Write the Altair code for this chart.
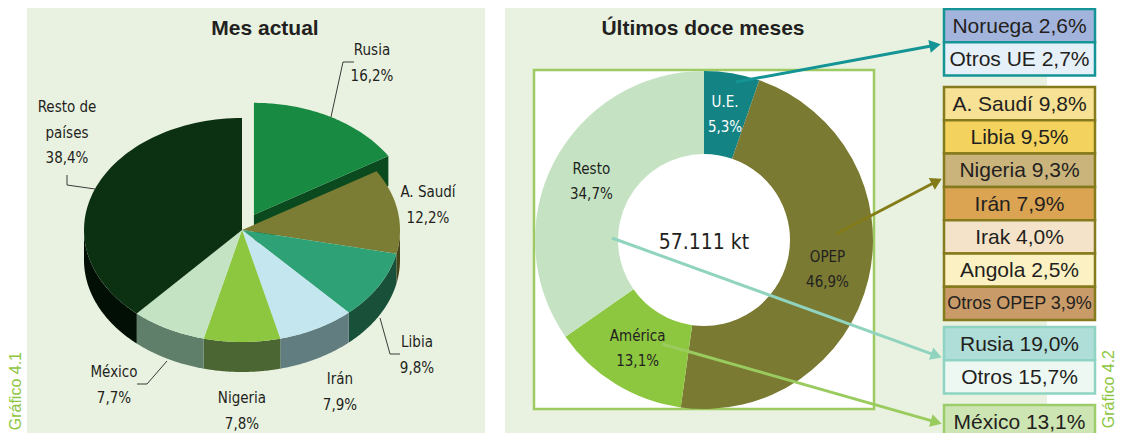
import altair as alt
import pandas as pd

# ---------------- data ----------------
pie_labels = ["Rusia", "A. Saudí", "Libia", "Irán", "Nigeria", "México", "Resto de países"]
pie_values = [16.2, 12.2, 9.8, 7.9, 7.8, 7.7, 38.4]
exploded = "Rusia"

donut_labels = ["U.E.", "OPEP", "América", "Resto"]
donut_values = [5.3, 46.9, 13.1, 34.7]
donut_center = "57.111 kt"

box_labels = ["Noruega", "Otros UE", "A. Saudí", "Libia", "Nigeria", "Irán", "Irak",
              "Angola", "Otros OPEP", "Rusia", "Otros", "México"]
box_values = [2.6, 2.7, 9.8, 9.5, 9.3, 7.9, 4.0, 2.5, 3.9, 19.0, 15.7, 13.1]
box_groups = ["U.E."] * 2 + ["OPEP"] * 7 + ["Resto"] * 2 + ["América"]

panel_titles = ["Mes actual", "Últimos doce meses"]
figure_ids = ["Gráfico 4.1", "Gráfico 4.2"]


def pct(v):
    return f"{v:.1f}".replace(".", ",") + "%"


# ---------------- styles ----------------
pie_top_colors = ["#188A42", "#7B7D34", "#2EA276", "#C4E6EF", "#8DC63F", "#C4E3C3", "#0C3112"]
pie_side_colors = ["#0B4A1F", "#46461A", "#18503A", "#627D80", "#4B6633", "#5F7F6B", "#010F04"]
donut_colors = ["#138384", "#7A7A33", "#8DC63F", "#C5E3C3"]
donut_text_colors = ["#FFFFFF", "#231F20", "#231F20", "#231F20"]
box_fill_colors = ["#A3B4DC", "#E6F0F8", "#F7E194", "#F3D35E", "#CBB47B", "#DAA453",
                   "#F5E3C9", "#FCF1C3", "#C99B68", "#AFDDD7", "#EEF8F3", "#CDE5B2"]
group_border = {"U.E.": "#149495", "OPEP": "#857A1C", "Resto": "#8FD3C2", "América": "#9DCD6B"}
arrow_colors = {"U.E.": "#149495", "OPEP": "#847B19", "Resto": "#90D4BF", "América": "#9ACB5F"}
PANEL_BG = "#E9F2E0"
TEXT = "#231F20"
GREEN_ID = "#8DC63F"
NARROW = "DejaVu Sans Condensed, sans-serif"
SANS = "Liberation Sans, Arial, sans-serif"

# ---------------- layout (page pixels) ----------------
W, H = 1108, 425
X0, Y0 = 8, 8
xs = alt.Scale(domain=[X0, X0 + W], nice=False, zero=False)
ys = alt.Scale(domain=[Y0, Y0 + H], nice=False, zero=False, reverse=True)


def X(f):
    return alt.X(f + ":Q", scale=xs, axis=None)


def Y(f):
    return alt.Y(f + ":Q", scale=ys, axis=None)


# panels
panels_df = pd.DataFrame({"x": [27, 505], "x2": [485, 1047], "y": [8, 8], "y2": [433, 433]})
panels = alt.Chart(panels_df).mark_rect(color=PANEL_BG).encode(
    x=X("x"), x2="x2:Q", y=Y("y"), y2="y2:Q")

frame_df = pd.DataFrame({"x": [534], "x2": [874], "y": [70], "y2": [409]})
frame = alt.Chart(frame_df).mark_rect(fill="white", stroke="#9DCB62", strokeWidth=2.5).encode(
    x=X("x"), x2="x2:Q", y=Y("y"), y2="y2:Q")

# ---------------- donut ----------------
DCX, DCY, RO, RI, RLAB = 704, 240, 169, 86, 127
donut_df = pd.DataFrame({
    "label": donut_labels, "value": donut_values, "order": list(range(len(donut_labels))),
    "col": donut_colors, "tcol": donut_text_colors, "pct": [pct(v) for v in donut_values]})
dbase = alt.Chart(donut_df).transform_calculate(cx=str(DCX), cy=str(DCY))
theta = alt.Theta("value:Q", stack=True)
donut = dbase.mark_arc(innerRadius=RI, outerRadius=RO).encode(
    theta=theta, order=alt.Order("order:Q"), color=alt.Color("col:N", scale=None),
    x=X("cx"), y=Y("cy"))
dlab1 = dbase.mark_text(radius=RLAB, dy=-12.5, font=NARROW, fontSize=15, baseline="middle").encode(
    theta=theta, order=alt.Order("order:Q"), text="label:N", color=alt.Color("tcol:N", scale=None),
    x=X("cx"), y=Y("cy"))
dlab2 = dbase.mark_text(radius=RLAB, dy=12.5, font=NARROW, fontSize=15, baseline="middle").encode(
    theta=theta, order=alt.Order("order:Q"), text="pct:N", color=alt.Color("tcol:N", scale=None),
    x=X("cx"), y=Y("cy"))
center_df = pd.DataFrame({"t": [donut_center], "x": [DCX], "y": [DCY + 3]})
dcenter = alt.Chart(center_df).mark_text(font=NARROW, fontSize=21, color=TEXT, baseline="middle").encode(
    x=X("x"), y=Y("y"), text="t:N")

# ---------------- 3D pie ----------------
CX, CY, RX, RY, DEPTH, EXPLODE, N = 242, 230, 158, 112, 30, 0.155, 72
pie_df = pd.DataFrame({"label": pie_labels, "value": pie_values,
                       "order": list(range(len(pie_labels))),
                       "top": pie_top_colors, "side": pie_side_colors})
pie_base = (alt.Chart(pie_df)
            .transform_window(cum="sum(value)", sort=[alt.SortField(field="order", order="ascending")],
                              frame=[None, 0])
            .transform_joinaggregate(total="sum(value)")
            .transform_calculate(a0="2*PI*(datum.cum - datum.value)/datum.total")
            .transform_calculate(a1="2*PI*datum.cum/datum.total")
            .transform_calculate(ex=f"datum.label == '{exploded}' ? 1 : 0")
            .transform_calculate(ox=f"datum.ex*{EXPLODE}*{RX}*sin((datum.a0+datum.a1)/2)")
            .transform_calculate(oy=f"-datum.ex*{EXPLODE}*{RY}*cos((datum.a0+datum.a1)/2)"))

tops = (pie_base
        .transform_calculate(s=f"sequence(-1, {N + 1})")
        .transform_flatten(["s"])
        .transform_calculate(th=f"datum.a0 + (datum.a1 - datum.a0)*max(datum.s, 0)/{N}")
        .transform_calculate(r="datum.s < 0 ? 0 : 1")
        .transform_calculate(px=f"{CX} + datum.ox + datum.r*{RX}*sin(datum.th)")
        .transform_calculate(py=f"{CY} + datum.oy - datum.r*{RY}*cos(datum.th)")
        .mark_line(filled=True, interpolate="linear-closed")
        .encode(x=X("px"), y=Y("py"), order=alt.Order("s:Q"), detail="label:N",
                color=alt.Color("top:N", scale=None)))

walls = (pie_base
         .transform_calculate(w0="max(datum.a0, PI/2)")
         .transform_calculate(w1="min(datum.a1, 3*PI/2)")
         .transform_filter("datum.w1 > datum.w0")
         .transform_calculate(s=f"sequence(0, {2 * N + 2})")
         .transform_flatten(["s"])
         .transform_calculate(th=f"datum.s <= {N} ? datum.w0 + (datum.w1-datum.w0)*datum.s/{N} : "
                                 f"datum.w1 - (datum.w1-datum.w0)*(datum.s-{N + 1})/{N}")
         .transform_calculate(dz=f"datum.s <= {N} ? 0 : 1")
         .transform_calculate(px=f"{CX} + datum.ox + {RX}*sin(datum.th)")
         .transform_calculate(py=f"{CY} + datum.oy - {RY}*cos(datum.th) + datum.dz*{DEPTH}")
         .mark_line(filled=True, interpolate="linear-closed")
         .encode(x=X("px"), y=Y("py"), order=alt.Order("s:Q"), detail="label:N",
                 color=alt.Color("side:N", scale=None)))

face = (pie_base
        .transform_filter("datum.ex == 1")
        .transform_calculate(s="sequence(0, 4)")
        .transform_flatten(["s"])
        .transform_calculate(r="(datum.s == 1 || datum.s == 2) ? 1 : 0")
        .transform_calculate(dz="datum.s >= 2 ? 1 : 0")
        .transform_calculate(px=f"{CX} + datum.ox + datum.r*{RX}*sin(datum.a1)")
        .transform_calculate(py=f"{CY} + datum.oy - datum.r*{RY}*cos(datum.a1) + datum.dz*{DEPTH}")
        .mark_line(filled=True, interpolate="linear-closed")
        .encode(x=X("px"), y=Y("py"), order=alt.Order("s:Q"), detail="label:N",
                color=alt.Color("side:N", scale=None)))

# pie labels
label_anchor = {"Rusia": (372, 50), "A. Saudí": (428, 192), "Libia": (417, 342), "Irán": (340, 379),
                "Nigeria": (242, 398), "México": (114, 372), "Resto de países": (67, 107)}
LINE = 25.5
lab_rows = []
for lab, v in zip(pie_labels, pie_values):
    lines = lab.rsplit(" ", 1) if len(lab) > 10 else [lab]
    lines = lines + [pct(v)]
    lx, ly = label_anchor[lab]
    for k, t in enumerate(lines):
        lab_rows.append({"t": t, "x": lx, "y": ly + k * LINE})
pie_text = alt.Chart(pd.DataFrame(lab_rows)).mark_text(
    font=NARROW, fontSize=15, color=TEXT, baseline="middle").encode(x=X("x"), y=Y("y"), text="t:N")

leaders = {"Rusia": [(331, 117), (343, 62), (354, 62)],
           "Libia": [(380, 318), (390, 354), (400, 354)],
           "México": [(167, 361), (147, 384), (137, 384)],
           "Resto de países": [(67, 175), (67, 185), (95, 189)]}
lead_rows = [{"id": k, "seq": i, "x": p[0], "y": p[1]} for k, pts in leaders.items() for i, p in enumerate(pts)]
leader_lines = alt.Chart(pd.DataFrame(lead_rows)).mark_line(color="#3A3A3A", strokeWidth=1).encode(
    x=X("x"), y=Y("y"), detail="id:N", order=alt.Order("seq:Q"))

# ---------------- boxes ----------------
group_top = {"U.E.": 9, "OPEP": 87, "Resto": 327, "América": 405}
ROW = 33.3
BX0, BX1 = 944, 1095
box_rows = []
seen = {}
for lab, v, g, fc in zip(box_labels, box_values, box_groups, box_fill_colors):
    k = seen.get(g, 0)
    seen[g] = k + 1
    top = group_top[g] + k * ROW
    box_rows.append({"t": f"{lab} {pct(v)}", "x": BX0, "x2": BX1, "y": top, "y2": top + ROW,
                     "xc": (BX0 + BX1) / 2, "yc": top + ROW / 2 + 1, "fill": fc,
                     "stroke": group_border[g]})
box_df = pd.DataFrame(box_rows)
boxes = alt.Chart(box_df).mark_rect(strokeWidth=2.5).encode(
    x=X("x"), x2="x2:Q", y=Y("y"), y2="y2:Q",
    color=alt.Color("fill:N", scale=None), stroke=alt.Stroke("stroke:N", scale=None))
box_text = alt.Chart(box_df).transform_filter("length(datum.t) <= 14").mark_text(
    font=SANS, fontSize=21, color=TEXT, baseline="middle").encode(x=X("xc"), y=Y("yc"), text="t:N")
box_text_n = alt.Chart(box_df).transform_filter("length(datum.t) > 14").mark_text(
    font=SANS, fontSize=18, color=TEXT, baseline="middle").encode(x=X("xc"), y=Y("yc"), text="t:N")

# ---------------- arrows ----------------
arrow_pts = {"U.E.": (736, 82, 942, 44), "OPEP": (836, 234, 943, 178),
             "Resto": (612, 238, 943, 358), "América": (662, 344, 943, 424)}
arr_df = pd.DataFrame([{"g": g, "x0": p[0], "y0": p[1], "x1": p[2], "y1": p[3], "col": arrow_colors[g]}
                       for g, p in arrow_pts.items()])
abase = (alt.Chart(arr_df)
         .transform_calculate(L="sqrt(pow(datum.x1-datum.x0,2)+pow(datum.y1-datum.y0,2))")
         .transform_calculate(hx="datum.x1 - 7*(datum.x1-datum.x0)/datum.L")
         .transform_calculate(hy="datum.y1 - 7*(datum.y1-datum.y0)/datum.L")
         .transform_calculate(ang="(atan2(datum.y1-datum.y0, datum.x1-datum.x0)*180/PI + 360) % 360"))
arrow_lines = abase.mark_rule(strokeWidth=3).encode(
    x=X("x0"), y=Y("y0"), x2="hx:Q", y2="hy:Q", color=alt.Color("col:N", scale=None))
arrow_heads = abase.mark_point(shape="triangle-right", filled=True, size=170, opacity=1).encode(
    x=X("hx"), y=Y("hy"), angle=alt.Angle("ang:Q", scale=None), color=alt.Color("col:N", scale=None))

# ---------------- titles ----------------
title_df = pd.DataFrame({"t": panel_titles, "x": [265, 703], "y": [35, 35]})
titles = alt.Chart(title_df).mark_text(font=SANS, fontSize=21, fontWeight="bold", color=TEXT,
                                       baseline="alphabetic").encode(x=X("x"), y=Y("y"), text="t:N")
ids_df = pd.DataFrame({"t": figure_ids, "x": [21, 1114], "y": [352, 350]})
ids = alt.Chart(ids_df).mark_text(font=SANS, fontSize=16, color=GREEN_ID, angle=270, align="right",
                                  baseline="alphabetic").encode(x=X("x"), y=Y("y"), text="t:N")

chart = alt.layer(
    panels, frame, donut, dlab1, dlab2, dcenter,
    walls, face, tops, leader_lines, pie_text,
    arrow_lines, arrow_heads, boxes, box_text, box_text_n, titles, ids
).properties(
    width=W, height=H, padding=0, background="white",
    autosize=alt.AutoSizeParams(type="none")
).configure_view(stroke=None)

chart.save("out.html", embed_options={"renderer": "svg", "actions": False})
